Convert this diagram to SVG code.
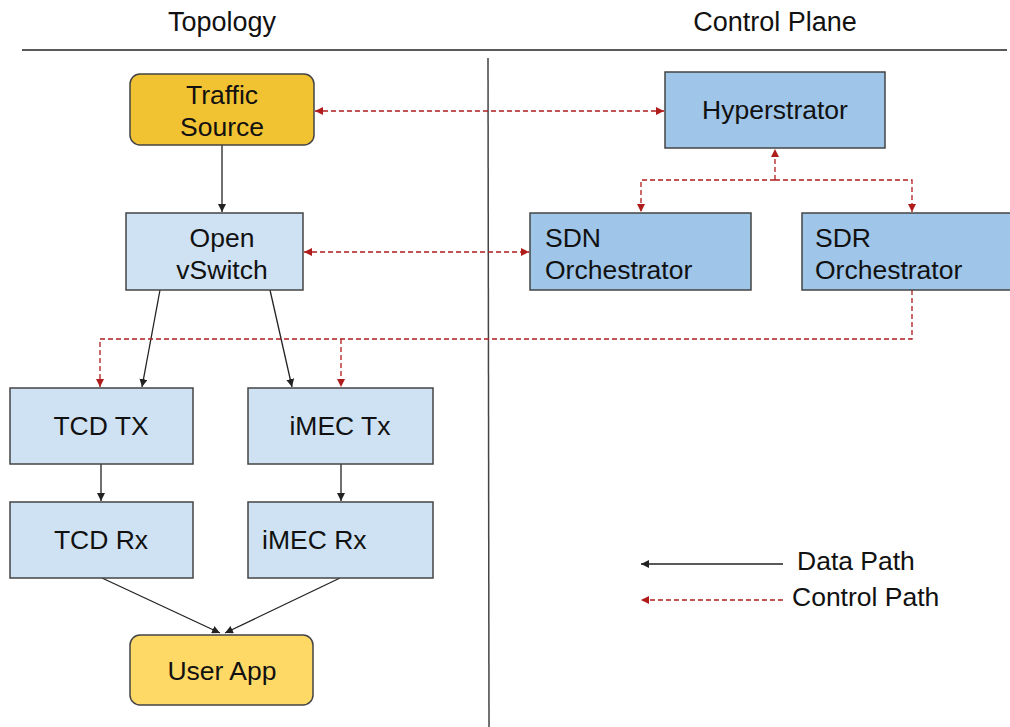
<svg xmlns="http://www.w3.org/2000/svg" width="1010" height="727" viewBox="0 0 1010 727">
<defs>
<marker id="ab" viewBox="0 0 10 10" refX="10" refY="5" markerWidth="8" markerHeight="8" markerUnits="userSpaceOnUse" orient="auto-start-reverse"><path d="M0,0 L10,5 L0,10 z" fill="#222"/></marker>
<marker id="ar" viewBox="0 0 10 10" refX="10" refY="5" markerWidth="8" markerHeight="8" markerUnits="userSpaceOnUse" orient="auto-start-reverse"><path d="M0,0 L10,5 L0,10 z" fill="#b01c1c"/></marker>
</defs>
<style>
text{font-family:"Liberation Sans",Arial,sans-serif;font-size:26.5px;fill:#111}
.h{font-size:27px}
.c{text-anchor:middle}
.box{stroke:#444;stroke-width:1.5}
.y1{fill:#f1c232}.y2{fill:#ffd966}.lb{fill:#cfe2f3}.db{fill:#9fc5e8}
.d{stroke:#222;stroke-width:1.3;fill:none}
.r{stroke:#b01c1c;stroke-width:1.3;fill:none;stroke-dasharray:5,3}
</style>
<rect width="1010" height="727" fill="#fff"/>
<g id="frame">
<text class="c h" x="222" y="31">Topology</text>
<text class="c h" x="775" y="31">Control Plane</text>
<line x1="22" y1="50" x2="1007" y2="50" stroke="#222" stroke-width="1.5"/>
<line x1="488" y1="58" x2="489" y2="727" stroke="#444" stroke-width="1.5"/>
</g>
<g id="connectors">
<line class="d" x1="222" y1="145" x2="222" y2="212" marker-end="url(#ab)"/>
<line class="d" x1="160" y1="290" x2="142" y2="387" marker-end="url(#ab)"/>
<line class="d" x1="270" y1="290" x2="292" y2="387" marker-end="url(#ab)"/>
<line class="d" x1="101" y1="464" x2="101" y2="501" marker-end="url(#ab)"/>
<line class="d" x1="341" y1="464" x2="341" y2="501" marker-end="url(#ab)"/>
<line class="d" x1="102" y1="578" x2="220" y2="633" marker-end="url(#ab)"/>
<line class="d" x1="340" y1="578" x2="225" y2="633" marker-end="url(#ab)"/>
<line class="r" x1="315" y1="111" x2="664" y2="111" marker-start="url(#ar)" marker-end="url(#ar)"/>
<line class="r" x1="304" y1="252" x2="529" y2="252" marker-start="url(#ar)" marker-end="url(#ar)"/>
<path class="r" d="M775,180 L775,149" marker-end="url(#ar)"/>
<path class="r" d="M775,180 L641,180 L641,212" marker-end="url(#ar)"/>
<path class="r" d="M775,180 L912,180 L912,212" marker-end="url(#ar)"/>
<path class="r" d="M912,290 L912,339 L100,339 L100,387" marker-end="url(#ar)"/>
<path class="r" d="M341,339 L341,387" marker-end="url(#ar)"/>
<line class="d" x1="783" y1="564" x2="641" y2="564" marker-end="url(#ab)"/>
<line class="r" x1="783" y1="600" x2="641" y2="600" marker-end="url(#ar)"/>
</g>
<g id="traffic-source"><rect class="box y1" x="130" y="74" width="184" height="71" rx="10"/><text class="c" x="222" y="104">Traffic</text><text class="c" x="222" y="136">Source</text></g>
<g id="open-vswitch"><rect class="box lb" x="126" y="213" width="177" height="77"/><text class="c" x="222" y="247">Open</text><text class="c" x="222" y="279">vSwitch</text></g>
<g id="hyperstrator"><rect class="box db" x="665" y="72" width="220" height="76"/><text class="c" x="775" y="119">Hyperstrator</text></g>
<g id="sdn-orchestrator"><rect class="box db" x="530" y="213" width="221" height="77"/><text x="545" y="247">SDN</text><text x="545" y="279">Orchestrator</text></g>
<g id="sdr-orchestrator"><rect class="box db" x="802" y="213" width="215" height="77"/><text x="815" y="247">SDR</text><text x="815" y="279">Orchestrator</text></g>
<g id="tcd-tx"><rect class="box lb" x="10" y="388" width="183" height="76"/><text class="c" x="101" y="435">TCD TX</text></g>
<g id="imec-tx"><rect class="box lb" x="248" y="388" width="185" height="76"/><text class="c" x="340" y="435">iMEC Tx</text></g>
<g id="tcd-rx"><rect class="box lb" x="10" y="502" width="183" height="76"/><text class="c" x="101" y="549">TCD Rx</text></g>
<g id="imec-rx"><rect class="box lb" x="248" y="502" width="185" height="76"/><text x="262" y="549">iMEC Rx</text></g>
<g id="user-app"><rect class="box y2" x="130" y="635" width="183" height="70" rx="10"/><text class="c" x="222" y="680">User App</text></g>
<g id="legend"><text x="797" y="570">Data Path</text><text x="792" y="606">Control Path</text></g>
</svg>
